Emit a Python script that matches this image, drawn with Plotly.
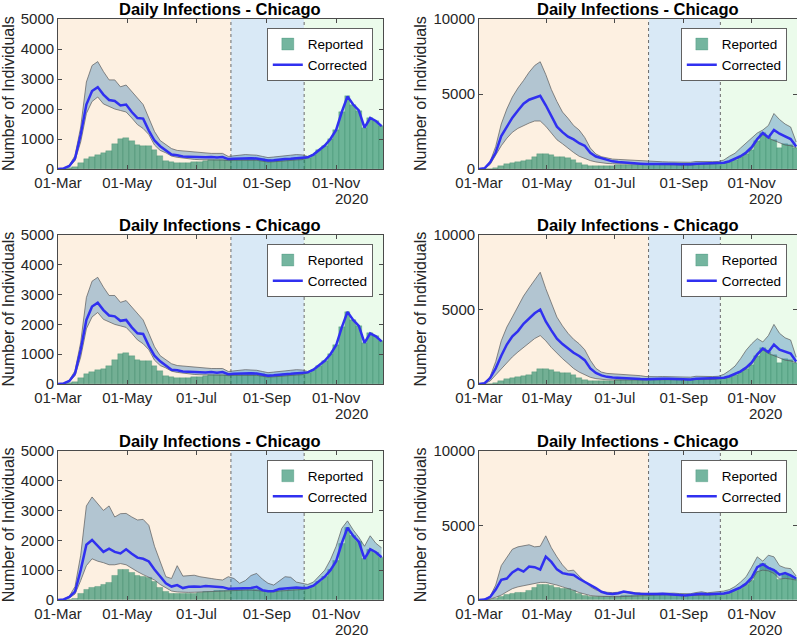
import pandas as pd
import plotly.graph_objects as go

# ---------------- data (values every 5 days from 01-Mar-2020) ----------------
dates = pd.date_range("2020-03-01", periods=58, freq="5D")

reported = [0, 5, 20, 60, 200, 330, 400, 460, 520, 590,
            820, 1000, 1030, 930, 800, 770, 760, 620, 420, 270,
            220, 210, 205, 210, 220, 250, 280, 290, 300, 300,
            310, 330, 340, 350, 360, 350, 320, 290, 270, 310,
            320, 330, 360, 370, 380, 480, 620, 780, 1000, 1300,
            1900, 2420, 2150, 1950, 1380, 1700, 1600, 1430]

# panel 1 (top-left) and panel 3 (middle-left)
corr_a = [0, 20, 100, 350, 1150, 2150, 2600, 2730, 2480, 2300,
          2270, 2120, 2150, 1900, 1700, 1680, 1280, 950, 760, 620,
          480, 460, 420, 410, 400, 400, 390, 400, 380, 400,
          330, 340, 350, 360, 360, 350, 320, 280, 290, 320,
          330, 340, 360, 360, 390, 480, 620, 780, 1000, 1300,
          1900, 2420, 2150, 1950, 1380, 1700, 1600, 1430]
upper_a = [0, 25, 120, 450, 1400, 2900, 3450, 3580, 3250, 2970,
           2970, 2740, 2800, 2580, 2380, 2150, 1700, 1250, 950, 800,
           680, 620, 600, 580, 560, 540, 520, 520, 520, 520,
           420, 440, 460, 480, 470, 460, 420, 380, 400, 430,
           440, 460, 480, 470, 420, 480, 620, 780, 1000, 1300,
           1900, 2420, 2150, 1950, 1380, 1700, 1600, 1430]
lower_a = [0, 15, 80, 280, 900, 1850, 2250, 2400, 2170, 2080,
           2000, 1950, 1900, 1700, 1480, 1350, 1150, 800, 620, 540,
           430, 390, 360, 340, 320, 310, 300, 300, 300, 300,
           280, 290, 290, 300, 300, 290, 260, 230, 240, 260,
           270, 280, 300, 310, 380, 480, 620, 780, 1000, 1300,
           1900, 2420, 2150, 1950, 1380, 1700, 1600, 1430]

# panel 2 (top-right)
corr_b = [0, 50, 450, 1100, 2200, 2850, 3420, 3900, 4350, 4620,
          4760, 4880, 4250, 3490, 2820, 2460, 2160, 1970, 1720, 1550,
          1080, 830, 710, 610, 510, 460, 420, 400, 380, 350,
          330, 340, 350, 360, 350, 340, 320, 300, 310, 350,
          360, 340, 360, 380, 420, 520, 700, 850, 1100, 1450,
          2000, 2400, 2100, 2600, 2350, 2150, 2000, 1500]
upper_b = [0, 60, 500, 1500, 3000, 4000, 4800, 5400, 5900, 6450,
           6900, 7150, 6300, 5300, 4500, 3800, 3380, 2900, 2600, 2100,
           1400, 1000, 820, 720, 660, 640, 620, 600, 580, 540,
           490, 480, 480, 480, 470, 460, 450, 420, 450, 500,
           480, 470, 490, 500, 600, 850, 1050, 1400, 1750, 2100,
           2400, 2600, 2900, 3700, 3300, 3000, 2800, 1800]
lower_b = [0, 40, 300, 900, 1550, 2050, 2450, 2710, 2900, 3060,
           3200, 3200, 2850, 2380, 1950, 1680, 1380, 1100, 850, 690,
           560, 470, 400, 370, 350, 340, 330, 330, 320, 310,
           300, 290, 300, 300, 300, 290, 270, 250, 260, 290,
           300, 300, 310, 330, 380, 480, 640, 790, 1010, 1310,
           1900, 2300, 2050, 1900, 1700, 1600, 1550, 1420]

# panel 4 (middle-right)
corr_d = [0, 50, 400, 1050, 1900, 2650, 3200, 3550, 4040, 4400,
          4750, 5000, 4200, 3600, 3040, 2680, 2380, 2100, 1880, 1600,
          1050, 740, 580, 480, 440, 410, 390, 380, 360, 330,
          320, 340, 350, 360, 350, 340, 320, 300, 310, 350,
          360, 340, 360, 380, 420, 520, 700, 850, 1100, 1450,
          2000, 2380, 2150, 2650, 2300, 2150, 2040, 1500]
upper_d = [0, 60, 500, 1500, 2900, 3820, 4500, 5200, 5900, 6450,
           6950, 7500, 6400, 5400, 4490, 3900, 3400, 3000, 2700, 2300,
           1600, 1050, 800, 710, 690, 680, 670, 650, 600, 560,
           500, 480, 490, 500, 490, 480, 460, 430, 460, 520,
           500, 480, 500, 520, 650, 900, 1200, 1700, 2270, 2700,
           3050, 2820, 3250, 4000, 3400, 3100, 2950, 1800]
lower_d = [0, 30, 200, 600, 1000, 1450, 1820, 2150, 2450, 2750,
           3050, 3250, 2900, 2450, 2050, 1700, 1380, 1040, 800, 600,
           450, 360, 300, 280, 270, 270, 270, 270, 270, 270,
           270, 280, 290, 300, 300, 290, 270, 250, 260, 290,
           300, 300, 310, 330, 380, 480, 640, 790, 1010, 1310,
           1900, 2300, 2050, 1900, 1700, 1600, 1550, 1420]

# panel 5 (bottom-left)
corr_e = [0, 20, 100, 280, 1000, 1850, 2010, 1800, 1610, 1720,
          1610, 1560, 1700, 1550, 1420, 1380, 1290, 1020, 800, 560,
          450, 500, 400, 440, 450, 440, 470, 450, 440, 430,
          380, 390, 390, 400, 400, 440, 330, 290, 300, 370,
          390, 390, 420, 400, 410, 480, 620, 780, 1000, 1300,
          1900, 2420, 2150, 1950, 1380, 1700, 1600, 1430]
upper_e = [0, 25, 130, 450, 1500, 3150, 3450, 3230, 3000, 3150,
           2780, 2890, 2900, 2780, 2680, 2700, 2500, 1800, 1300, 780,
           720, 1150, 800, 820, 830, 780, 760, 720, 690, 670,
           780, 720, 560, 650, 820, 890, 700, 560, 500, 650,
           780, 760, 600, 560, 520, 600, 800, 1000, 1350, 1800,
           2400, 2650, 2350, 2100, 1800, 2150, 1900, 1750]
lower_e = [0, 15, 70, 200, 650, 1150, 1380, 1300, 1250, 1180,
           1180, 1220, 1180, 1050, 950, 850, 760, 670, 520, 400,
           300, 270, 255, 255, 260, 270, 280, 290, 300, 310,
           320, 320, 320, 330, 330, 320, 300, 280, 270, 300,
           310, 320, 340, 350, 380, 480, 620, 780, 1000, 1300,
           1900, 2420, 2150, 1950, 1380, 1700, 1600, 1430]

# panel 6 (bottom-right)
corr_f = [0, 30, 200, 700, 1350, 1440, 1850, 2080, 1900, 2240,
          2200, 2040, 2900, 2550, 2050, 1800, 1720, 1670, 1420, 1230,
          1000, 800, 550, 440, 400, 450, 560, 480, 440, 420,
          400, 410, 400, 420, 410, 400, 340, 300, 320, 380,
          420, 380, 400, 420, 430, 520, 680, 850, 1100, 1500,
          2200, 2400, 2150, 2000, 1700, 1800, 1650, 1440]
upper_f = [0, 40, 250, 1000, 2300, 2890, 3400, 3560, 3650, 3700,
           3560, 3600, 4300, 3500, 2890, 2350, 1950, 2000, 1600, 1250,
           900, 680, 560, 520, 490, 520, 560, 540, 480, 460,
           440, 450, 460, 480, 470, 460, 430, 400, 420, 500,
           550, 480, 520, 560, 600, 700, 900, 1200, 1560, 2200,
           2890, 2600, 3000, 2890, 2300, 2150, 2100, 1600]
lower_f = [0, 10, 60, 180, 330, 550, 760, 880, 960, 1040,
           1120, 1180, 1180, 1100, 1000, 880, 780, 650, 500, 400,
           300, 260, 230, 220, 220, 220, 240, 260, 280, 290,
           300, 320, 330, 340, 340, 330, 300, 270, 270, 300,
           310, 320, 340, 350, 380, 480, 640, 790, 1010, 1310,
           1900, 2000, 1950, 1780, 1400, 1450, 1400, 1330]

left_ticks = [0, 1000, 2000, 3000, 4000, 5000]
right_ticks = [0, 5000, 10000]
phase_starts = ["2020-03-01", "2020-07-31 08:00", "2020-10-03 20:00"]
title_text = "Daily Infections - Chicago"
ylabel_text = "Number of Individuals"
year_text = "2020"

for arr in [reported, corr_a, upper_a, lower_a, corr_b, upper_b, lower_b,
            corr_d, upper_d, lower_d, corr_e, upper_e, lower_e,
            corr_f, upper_f, lower_f]:
    assert len(arr) == len(dates), len(arr)

# ---------------- layout geometry (pixels) ----------------
W, H = 797, 638
rows_px = [(19, 169), (235, 384), (450.7, 600)]
cols_px = [(58, 383), (479, 797)]
x_end = ["2020-12-12 07:00", "2020-12-11 17:00"]

panels = [
    (0, 0, corr_a, lower_a, upper_a),
    (0, 1, corr_b, lower_b, upper_b),
    (1, 0, corr_a, lower_a, upper_a),
    (1, 1, corr_d, lower_d, upper_d),
    (2, 0, corr_e, lower_e, upper_e),
    (2, 1, corr_f, lower_f, upper_f),
]

FONT = "Liberation Sans, Arial, Helvetica, sans-serif"
bg_colors = ["#FDF0E1", "#D9E9F6", "#EBFBEB"]
band_fill = "rgba(55,125,185,0.38)"
band_edge = "#5a5a5a"
bar_fill = "rgba(30,135,100,0.62)"
bar_edge = "rgba(20,110,80,0.45)"
line_col = "#3030F0"
axis_col = "#4a4a4a"
tick_col = "#262626"

fig = go.Figure()
shapes = []
annotations = []
layout_upd = {}

for i, (r, c, corr, low, up) in enumerate(panels, start=1):
    sfx = "" if i == 1 else str(i)
    xa, ya = "x" + sfx, "y" + sfx
    leg = "legend" + sfx
    (yt, yb), (xl, xr) = rows_px[r], cols_px[c]
    xdom = [xl / W, min(xr / W, 1.0)]
    ydom = [1 - yb / H, 1 - yt / H]

    fig.add_trace(go.Bar(x=dates, y=reported, width=5 * 86400000,
                         marker=dict(color=bar_fill, line=dict(color=bar_edge, width=0.5)),
                         name="Reported", legend=leg, showlegend=True,
                         xaxis=xa, yaxis=ya))
    fig.add_trace(go.Scatter(x=dates, y=low, mode="lines",
                             line=dict(color=band_edge, width=0.7),
                             showlegend=False, hoverinfo="skip",
                             xaxis=xa, yaxis=ya))
    fig.add_trace(go.Scatter(x=dates, y=up, mode="lines", fill="tonexty",
                             fillcolor=band_fill,
                             line=dict(color=band_edge, width=0.7),
                             showlegend=False, hoverinfo="skip",
                             xaxis=xa, yaxis=ya))
    fig.add_trace(go.Scatter(x=dates, y=corr, mode="lines",
                             line=dict(color=line_col, width=2.5),
                             name="Corrected", legend=leg, showlegend=True,
                             xaxis=xa, yaxis=ya))

    ticks = left_ticks if c == 0 else right_ticks
    layout_upd["xaxis" + sfx] = dict(
        domain=xdom, anchor=ya, type="date", automargin=False,
        range=["2020-03-01", x_end[c]],
        tick0="2020-03-01", dtick="M2", tickformat="%d-%b",
        showgrid=False, zeroline=False, showline=True, mirror="ticks",
        linecolor=axis_col, linewidth=0.8, ticks="inside", ticklen=4,
        tickcolor=axis_col, tickfont=dict(family=FONT, size=15, color=tick_col))
    layout_upd["yaxis" + sfx] = dict(
        domain=ydom, anchor=xa, range=[0, ticks[-1]], automargin=False,
        tickmode="array", tickvals=ticks, ticktext=[str(t) for t in ticks],
        showgrid=False, zeroline=False, showline=True, mirror="ticks",
        linecolor=axis_col, linewidth=0.8, ticks="inside", ticklen=4,
        tickcolor=axis_col, tickfont=dict(family=FONT, size=15, color=tick_col))

    # phase backgrounds
    ends = phase_starts[1:] + [x_end[c]]
    for s, e, col in zip(phase_starts, ends, bg_colors):
        shapes.append(dict(type="rect", xref=xa, yref=ya + " domain",
                           x0=s, x1=e, y0=0, y1=1, fillcolor=col,
                           line=dict(width=0), layer="below"))
    for s in phase_starts[1:]:
        shapes.append(dict(type="line", xref=xa, yref=ya + " domain",
                           x0=s, x1=s, y0=0, y1=1,
                           line=dict(color="#6a6a6a", width=1, dash="dot"),
                           layer="below"))

    # title
    xc = (xl + xr) / 2 if c == 0 else (xl + 797.7) / 2
    annotations.append(dict(text="<b>" + title_text + "</b>", xref="paper", yref="paper",
                            x=xc / W, y=ydom[1], xanchor="center", yanchor="bottom", yshift=-1,
                            showarrow=False, font=dict(family=FONT, size=16.5, color="black")))
    # y label
    annotations.append(dict(text=ylabel_text, xref="paper", yref="paper",
                            x=(8 if c == 0 else 420) / W, y=(ydom[0] + ydom[1]) / 2,
                            xanchor="center", yanchor="middle", textangle=-90,
                            showarrow=False, font=dict(family=FONT, size=16, color=tick_col)))
    # year label
    annotations.append(dict(text=year_text, xref="paper", yref="paper",
                            x=(370 if c == 0 else 783.5) / W, y=1 - (yb + 29.5) / H,
                            xanchor="right", yanchor="middle",
                            showarrow=False, font=dict(family=FONT, size=15, color=tick_col)))

    # legend
    layout_upd[leg] = dict(x=(373 if c == 0 else 787) / W, y=1 - (yt + 9) / H,
                           xanchor="right", yanchor="top", xref="paper", yref="paper",
                           bgcolor="white", bordercolor="#3a3a3a", borderwidth=0.8,
                           font=dict(family=FONT, size=13.5, color="black"),
                           itemwidth=30, tracegroupgap=0, traceorder="normal")

fig.update_layout(**layout_upd)
fig.update_layout(template="none", width=W, height=H,
                  margin=dict(l=0, r=0, t=0, b=0, pad=0),
                  paper_bgcolor="white", plot_bgcolor="white",
                  barmode="overlay", bargap=0,
                  shapes=shapes, annotations=annotations,
                  font=dict(family=FONT))

fig.write_html("out.html",
               config={"displayModeBar": False},
               post_script="document.body.style.margin='0px';"
                           "document.body.style.overflow='hidden';")
